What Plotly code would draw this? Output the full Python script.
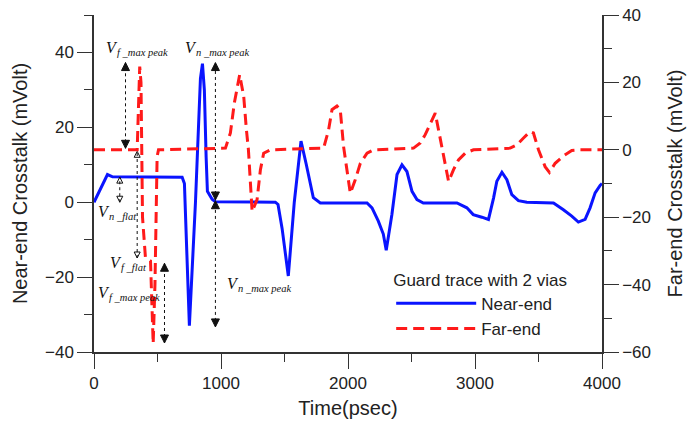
import plotly.graph_objects as go

# ---------------- data ----------------
time_near = [0, 106, 146, 694, 712, 751, 799, 838, 854, 869, 883, 893, 930, 956,
             1428, 1449, 1481, 1530, 1577, 1630, 1672, 1727, 1782,
             2150, 2189, 2238, 2278, 2301, 2346, 2386, 2425, 2464, 2504, 2543, 2593,
             2858, 2936, 2986, 3054, 3106, 3146, 3172, 3212, 3251, 3290, 3342, 3408,
             3618, 3696, 3762, 3814, 3867, 3906, 3946, 3985, 4000]
near_end = [0, 7.4, 6.8, 6.7, 5.0, -33.0, 0.0, 33.0, 37.0, 30.0, 12.0, 2.9, 0.8, 0.1,
            0.0, -0.6, -7.0, -19.7, 0.0, 16.3, 10.0, 1.2, -0.2,
            -0.2, -1.5, -5.0, -8.5, -12.8, -3.2, 7.4, 10.0, 8.2, 2.9, 0.7, -0.2,
            -0.2, -1.5, -3.3, -4.0, -4.6, 1.1, 5.6, 8.0, 6.0, 2.0, 0.4, 0.0,
            -0.2, -2.0, -3.7, -5.3, -4.6, -1.5, 2.5, 4.5, 5.0]

time_far = [0, 340, 360, 370, 382, 405, 445, 466, 480, 497, 508,
            1035, 1074, 1105, 1147, 1179, 1200, 1216, 1245, 1284, 1310, 1336, 1389,
            1808, 1847, 1874, 1913, 1939, 1965, 1992, 2018, 2057, 2097, 2150, 2201,
            2516, 2569, 2608, 2648, 2687, 2713, 2740, 2766, 2792, 2831, 2870, 2923, 2988,
            3277, 3330, 3382, 3434, 3460, 3500, 3552, 3586, 3631, 3696, 3762, 3828, 4000]
far_end = [0, 0, 24.7, 20, -20, -32, -33, -57.5, -40, -2, 0,
           0.5, 5, 13.9, 22.3, 15.8, 6, 0, -18.3, -14.8, -6, -1, 0,
           0.5, 5.9, 11.9, 13, 11.9, 1, -6.9, -12.9, -8.9, -4, -1, 0,
           0.5, 2, 4.5, 7.9, 10.9, 5.9, 1, -4, -9.4, -5.9, -3, -1, 0,
           0.5, 1.5, 3.5, 5.4, 5, 0, -5, -6.7, -4, -1.8, -0.2, 0, 0]

x_ticks = [0, 1000, 2000, 3000, 4000]
left_ticks = [-40, -20, 0, 20, 40]
right_ticks = [-60, -40, -20, 0, 20, 40]

# annotation labels: (time, left-axis value, subscript text)
label_t = [75, 704, 12, 114, 12, 1035]
label_v = [41.3, 41.3, -2.4, -16.0, -24.0, -21.6]
label_sub = ["f _max peak", "n _max peak", "n _flat", "f _flat", "f _max peak", "n _max peak"]

# measurement arrows: (time, top value, bottom value, filled head?)
arrow_t = [248, 956, 956, 203, 340, 555]
arrow_top = [37.3, 37.3, 0.4, 6.7, 13.6, -16.3]
arrow_bot = [14.4, 0.6, -33.3, 0.0, -14.9, -37.6]
arrow_filled = [True, True, True, False, False, True]

FONT = "Liberation Sans, Arial, sans-serif"
SERIF = "Liberation Serif, Times New Roman, serif"
AX = "#333333"
INK = "#111111"

fig = go.Figure()
fig.add_trace(go.Scatter(x=time_near, y=near_end, mode="lines", name="Near-end",
                         line=dict(color="#0a14ff", width=3), yaxis="y"))
fig.add_trace(go.Scatter(x=time_far, y=far_end, mode="lines", name="Far-end",
                         line=dict(color="#ff1a1a", width=3, dash="11px,6px"), yaxis="y2"))

shapes = []
for t, top, bot in zip(arrow_t, arrow_top, arrow_bot):
    shapes.append(dict(type="line", xref="x", yref="y", x0=t, x1=t, y0=bot, y1=top,
                       line=dict(color=INK, width=1, dash="dot")))

# arrowheads (tips sit exactly on the arrow ends)
for filled in (True, False):
    ts = [t for t, f in zip(arrow_t, arrow_filled) if f == filled]
    tops = [v for v, f in zip(arrow_top, arrow_filled) if f == filled]
    bots = [v for v, f in zip(arrow_bot, arrow_filled) if f == filled]
    suffix = "" if filled else "-open"
    size = 8 if filled else 6
    fig.add_trace(go.Scatter(x=ts, y=tops, mode="markers", showlegend=False, hoverinfo="skip",
                             marker=dict(symbol="arrow-up" + suffix, size=size, color=INK,
                                         line=dict(color=INK, width=1))))
    fig.add_trace(go.Scatter(x=ts, y=bots, mode="markers", showlegend=False, hoverinfo="skip",
                             marker=dict(symbol="arrow-down" + suffix, size=size, color=INK,
                                         line=dict(color=INK, width=1))))

annotations = []
for t, v, sub in zip(label_t, label_v, label_sub):
    annotations.append(dict(x=t, y=v, xref="x", yref="y", text="<i>V</i>", showarrow=False,
                            xanchor="left", yanchor="middle",
                            font=dict(family=SERIF, size=16, color=INK)))
    annotations.append(dict(x=t, y=v, xref="x", yref="y", text="<i>" + sub + "</i>",
                            showarrow=False, xanchor="left", yanchor="middle",
                            xshift=11, yshift=-5,
                            font=dict(family=SERIF, size=10.5, color=INK)))

fig.update_layout(
    width=697, height=423,
    margin=dict(l=94, r=95, t=15, b=71, autoexpand=False),
    paper_bgcolor="white", plot_bgcolor="white",
    font=dict(family=FONT, size=17, color="#222222"),
    showlegend=True,
    legend=dict(x=0.585, y=0.262, xanchor="left", yanchor="top",
                bgcolor="rgba(0,0,0,0)", borderwidth=0,
                title=dict(text="Guard trace with 2 vias", font=dict(size=17)),
                font=dict(size=17), itemwidth=80, tracegroupgap=0),
    xaxis=dict(range=[0, 4000], tickvals=x_ticks, ticks="outside", ticklen=15,
               tickwidth=1.2, tickcolor=AX, showline=True, linecolor=AX, linewidth=1.5,
               showgrid=False, zeroline=False,
               minor=dict(dtick=500, ticks="outside", ticklen=8, tickcolor=AX, tickwidth=1.2),
               title=dict(text="Time(psec)", standoff=9)),
    yaxis=dict(range=[-40, 50], tickvals=left_ticks, ticks="outside", ticklen=15,
               tickwidth=1.2, tickcolor=AX, showline=True, linecolor=AX, linewidth=1.5,
               showgrid=False, zeroline=False,
               minor=dict(dtick=10, ticks="outside", ticklen=8, tickcolor=AX, tickwidth=1.2),
               title=dict(text="Near-end Crosstalk (mVolt)", standoff=12)),
    yaxis2=dict(range=[-60, 40], tickvals=right_ticks, ticks="outside", ticklen=15,
                tickwidth=1.2, tickcolor=AX, showline=True, linecolor=AX, linewidth=1.5,
                showgrid=False, zeroline=False, overlaying="y", side="right",
                minor=dict(dtick=10, ticks="outside", ticklen=8, tickcolor=AX, tickwidth=1.2),
                title=dict(text="Far-end Crosstalk (mVolt)", standoff=18)),
    shapes=shapes,
    annotations=annotations,
)

fig.write_html("out.html")
